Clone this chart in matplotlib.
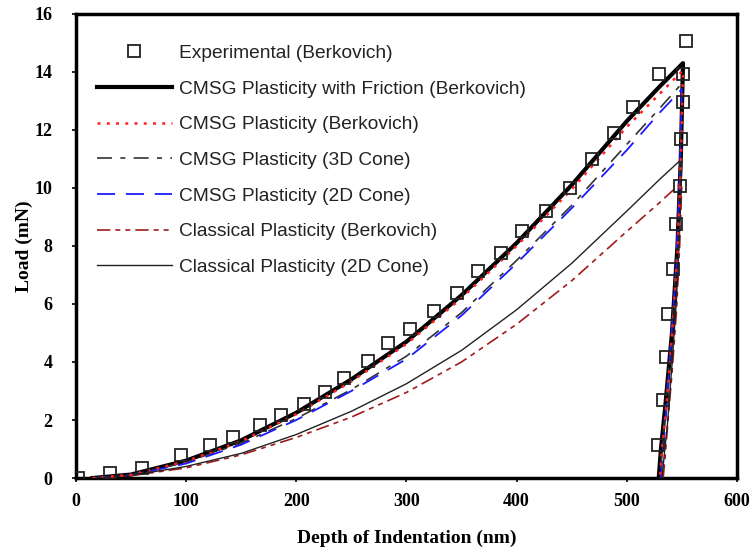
import matplotlib
matplotlib.use("Agg")
import matplotlib.pyplot as plt

# Experimental (Berkovich) markers
exp_x = [2, 31, 60, 95, 122, 143, 167, 186, 207, 226, 243, 265, 283, 303, 325, 346,
         365, 386, 405, 427, 448, 468, 488, 506, 529,
         554, 551, 551, 549, 548, 545, 542, 537, 536, 533, 528]
exp_y = [0, 0.18, 0.36, 0.79, 1.13, 1.41, 1.83, 2.18, 2.55, 2.98, 3.45, 4.04, 4.67, 5.13, 5.77, 6.36,
         7.15, 7.76, 8.51, 9.21, 9.99, 10.98, 11.88, 12.8, 13.92,
         15.07, 13.92, 12.95, 11.68, 10.06, 8.74, 7.2, 5.64, 4.16, 2.68, 1.14]

# CMSG Plasticity with Friction (Berkovich)
fric_x = [15, 50, 100, 150, 200, 250, 300, 350, 400, 450, 500, 530, 551, 549, 546, 541, 535, 531, 529]
fric_y = [0, 0.12, 0.6, 1.3, 2.25, 3.4, 4.7, 6.3, 8.1, 10.1, 12.3, 13.5, 14.3, 11.0, 8.0, 5.0, 2.5, 1.0, 0]

# CMSG Plasticity (Berkovich)
berk_x = [15, 50, 100, 150, 200, 250, 300, 350, 400, 450, 500, 530, 551, 549, 546, 541, 536, 532, 530]
berk_y = [0, 0.11, 0.58, 1.27, 2.2, 3.33, 4.62, 6.2, 8.0, 9.95, 12.1, 13.25, 14.05, 10.8, 7.8, 4.9, 2.5, 1.0, 0]

# CMSG Plasticity (3D Cone)
cone3_x = [15, 50, 100, 150, 200, 250, 300, 350, 400, 450, 500, 530, 550, 548, 545, 540, 535, 532, 530]
cone3_y = [0, 0.1, 0.55, 1.2, 2.05, 3.05, 4.2, 5.7, 7.5, 9.4, 11.5, 12.75, 13.6, 10.5, 7.5, 4.7, 2.4, 1.0, 0]

# CMSG Plasticity (2D Cone)
cone2_x = [15, 50, 100, 150, 200, 250, 300, 350, 400, 450, 500, 530, 550, 548, 545, 540, 536, 533, 531]
cone2_y = [0, 0.1, 0.5, 1.15, 2.0, 3.0, 4.1, 5.6, 7.4, 9.3, 11.3, 12.6, 13.4, 10.3, 7.3, 4.6, 2.4, 1.0, 0]

# Classical Plasticity (Berkovich)
clb_x = [15, 50, 100, 150, 200, 250, 300, 350, 400, 450, 500, 530, 550, 548, 545, 541, 537, 535, 533]
clb_y = [0, 0.08, 0.35, 0.8, 1.4, 2.1, 2.95, 4.0, 5.3, 6.8, 8.5, 9.5, 10.2, 8.0, 5.7, 3.6, 1.8, 0.8, 0]

# Classical Plasticity (2D Cone)
cl2_x = [15, 50, 100, 150, 200, 250, 300, 350, 400, 450, 500, 530, 550, 548, 545, 541, 537, 534, 532]
cl2_y = [0, 0.09, 0.4, 0.85, 1.5, 2.3, 3.25, 4.4, 5.8, 7.4, 9.2, 10.3, 11.0, 8.6, 6.1, 3.9, 1.9, 0.8, 0]

fig = plt.figure(figsize=(7.52, 5.52), dpi=100)
ax = fig.add_axes([0.101, 0.134, 0.879, 0.841])

leg_font = {'family': ['Liberation Sans', 'DejaVu Sans'], 'size': 13.8}

ax.plot(exp_x, exp_y, linestyle='none', marker='s', markersize=8.5, markerfacecolor='none',
        markeredgecolor='#222222', markeredgewidth=1.3, label='Experimental (Berkovich)', zorder=5)
ax.plot(fric_x, fric_y, color='black', lw=3.0, label='CMSG Plasticity with Friction (Berkovich)', zorder=3)
ax.plot(berk_x, berk_y, color='#ff2020', lw=1.8, linestyle=(0, (1.2, 2.5)), label='CMSG Plasticity (Berkovich)', zorder=4)
ax.plot(cone3_x, cone3_y, color='#333333', lw=1.2, linestyle=(0, (9, 5, 3, 5)), label='CMSG Plasticity (3D Cone)', zorder=3)
ax.plot(cone2_x, cone2_y, color='#1a1aff', lw=1.3, linestyle=(0, (10, 6)), label='CMSG Plasticity (2D Cone)', zorder=3)
ax.plot(clb_x, clb_y, color='#a01c1c', lw=1.2, linestyle=(0, (8, 3, 3, 3, 3, 3)), label='Classical Plasticity (Berkovich)', zorder=3)
ax.plot(cl2_x, cl2_y, color='#222222', lw=1.0, label='Classical Plasticity (2D Cone)', zorder=3)

ax.set_xlim(0, 600)
ax.set_ylim(0, 16)
ax.set_xticks(range(0, 601, 100))
ax.set_yticks(range(0, 17, 2))

tick_font = {'family': ['Liberation Serif', 'DejaVu Serif'], 'weight': 'bold', 'size': 13}
ax.set_xticklabels([str(v) for v in range(0, 601, 100)], fontdict=tick_font)
ax.set_yticklabels([str(v) for v in range(0, 17, 2)], fontdict=tick_font)
ax.tick_params(direction='out', length=3, width=1.2)
ax.tick_params(axis='x', pad=8)
ax.tick_params(axis='y', pad=14)
for s in ax.spines.values():
    s.set_linewidth(2.5)

lab_font = {'family': ['Liberation Serif', 'DejaVu Serif'], 'weight': 'bold', 'size': 14}
ax.set_xlabel('Depth of Indentation (nm)', fontdict=lab_font, labelpad=14)
ax.set_ylabel('Load (mN)', fontdict=lab_font, labelpad=1)

leg = ax.legend(loc='upper left', bbox_to_anchor=(0.02, 0.95), frameon=False, prop=leg_font,
                handlelength=3.9, handletextpad=0.4, labelspacing=0.95, borderaxespad=0)
for t in leg.get_texts():
    t.set_color('#222222')

fig.savefig('out.png', dpi=100)
